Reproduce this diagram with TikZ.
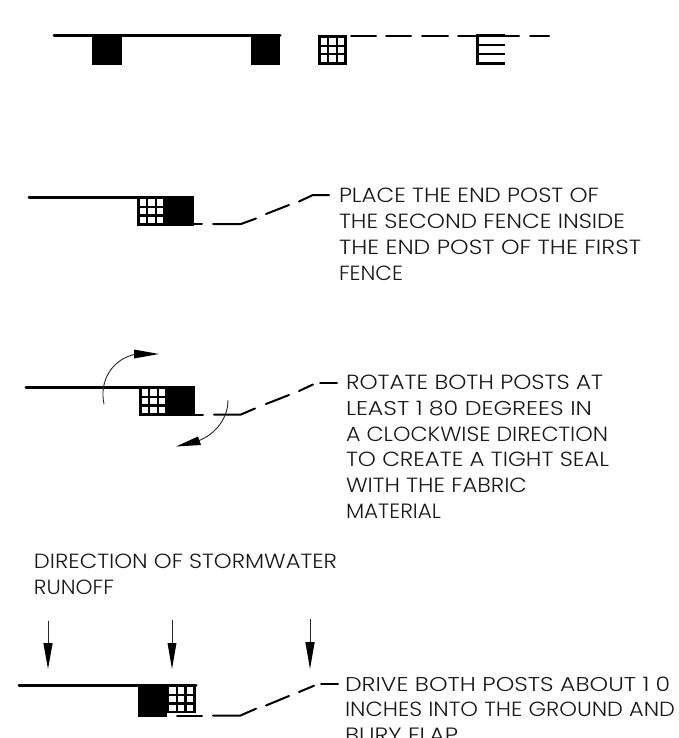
\documentclass[tikz,border=0pt]{standalone}
\usepackage{fontspec}
\usepackage{graphicx}
\setmainfont{Poppins Light}
\tikzset{
  x=1pt,y=-1pt,
  fence/.style={line width=3pt,line cap=round,black},
  leader/.style={line width=2pt,line cap=round,black},
  thinarc/.style={line width=0.9pt,black!85},
  lbl/.style={anchor=base west,inner sep=0pt,outer sep=0pt,text=black!90},
  head/.style={fill=black,draw=none}
}
% name, left x, baseline y, right x, text
\newcommand{\textline}[5]{%
  \pgfmathsetmacro{\tlw}{#4-#2}%
  \node[lbl] (#1) at (#2,#3) {\resizebox{\tlw pt}{14.5pt}{#5}};}
% left x, top y, cell size, left pad, top pad, pitch
\newcommand{\gridcells}[6]{%
  \foreach \i in {0,1,2}{\foreach \j in {0,1,2}{%
    \fill[white] ({#1+#4+\i*#6},{#2+#5+\j*#6}) rectangle +(#3,#3);}}}
\begin{document}
\begin{tikzpicture}
\useasboundingbox (0,0) rectangle (678,738);
\clip (0,0) rectangle (678,738);
\fill[white] (0,0) rectangle (678,738);

% --- top row
\draw[fence] (54,36) -- (280,36);
\fill (92,35) rectangle (122,65);
\fill (251,35) rectangle (280,65);
\fill (318,35) rectangle (347,65);
\gridcells{318}{35}{6.6}{2.6}{3.2}{8.6}
\draw[leader] (351,36) -- (376,36);
\draw[leader] (386,36) -- (411,36);
\draw[leader] (422,36) -- (448,36);
\draw[leader] (458,36) -- (519,36);
\draw[leader] (530,36) -- (549,36);
\draw[line width=3pt] (505,36) -- (477,36) -- (477,64) -- (505,64);
\draw[line width=1.8pt] (478,45) -- (505,45);
\draw[line width=1.8pt] (478,54) -- (505,54);

% --- place
\draw[fence] (29,197) -- (140,197);
\fill (137,196) rectangle (194,225.5);
\gridcells{137}{196}{6.3}{2.6}{3.2}{8.7}
\draw[leader] (194,224) -- (202,224);
\draw[leader] (213,224) -- (241,224) -- (256,218.5);
\draw[leader] (266,214) -- (289,205);
\draw[leader] (299,201.5) -- (313,195) -- (329,195);

% --- rotate
\draw[fence] (26,387) -- (142,387);
\fill (139,386) rectangle (195,415.5);
\gridcells{139}{386}{6.3}{2.6}{3.2}{8.7}
\draw[leader] (195,414.5) -- (203,414.5);
\draw[leader] (214,414.5) -- (241,414.5) -- (255,408.5);
\draw[leader] (266,404) -- (289,395);
\draw[leader] (299,391) -- (313,384.5);
\draw[leader] (320,383) -- (337,383);
\draw[thinarc] (104,404) .. controls (99,381) and (112,359) .. (136,354);
\fill[head] (159,354) -- (134,349.5) -- (134,358.5) -- cycle;
\draw[thinarc] (228,400) .. controls (228,418) and (216,434) .. (198,441);
\fill[head] (176,446.5) -- (198,436.5) -- (201,445) -- cycle;

% --- flow arrows
\draw[thinarc] (48,621) -- (48,645);
\fill[head] (48,669) -- (43.3,643) -- (52.7,643) -- cycle;
\draw[thinarc] (172,619.5) -- (172,645);
\fill[head] (172,669) -- (167.5,643) -- (176.5,643) -- cycle;
\draw[thinarc] (310,619) -- (310,644);
\fill[head] (310,669) -- (305.3,642) -- (314.7,642) -- cycle;

% --- drive
\draw[fence] (19,685) -- (196,685);
\fill (138,684) rectangle (167,716.5);
\fill (167,684) rectangle (196,713);
\gridcells{167}{684}{6.3}{2.2}{3.2}{8.7}
\draw[line width=1.6pt] (195.5,685) -- (195.5,713);
\draw[leader] (177,715.5) -- (202,715.5);
\draw[leader] (213,715.5) -- (240.5,715.5) -- (256,708.7);
\draw[leader] (266,705.5) -- (289,696);
\draw[leader] (299,692) -- (314,685.7);
\draw[leader] (321,684) -- (338,684);

% --- text
\textline{p1}{339}{202.5}{599}{PLACE THE END POST OF}
\textline{p2}{339}{228.5}{625}{THE SECOND FENCE INSIDE}
\textline{p3}{339}{254.5}{641}{THE END POST OF THE FIRST}
\textline{p4}{339}{280.5}{403}{FENCE}
\textline{r1}{346}{389}{603}{ROTATE BOTH POSTS AT}
\textline{r2}{346}{415}{592}{LEAST 1\hspace{0.25em}80 DEGREES IN}
\textline{r3}{346}{441}{608}{A CLOCKWISE DIRECTION}
\textline{r4}{346}{466.5}{609}{TO CREATE A TIGHT SEAL}
\textline{r5}{346}{492}{527}{WITH THE FABRIC}
\textline{r6}{346}{518}{441}{MATERIAL}
\textline{d1}{34}{568}{337}{DIRECTION OF STORMWATER}
\textline{d2}{34}{594}{114}{RUNOFF}
\textline{b1}{345}{691}{670}{DRIVE BOTH POSTS ABOUT 1\hspace{0.25em}0}
\textline{b2}{345}{716.5}{675}{INCHES INTO THE GROUND AND}
\textline{b3}{345}{742.5}{458}{BURY FLAP}
\end{tikzpicture}
\end{document}
